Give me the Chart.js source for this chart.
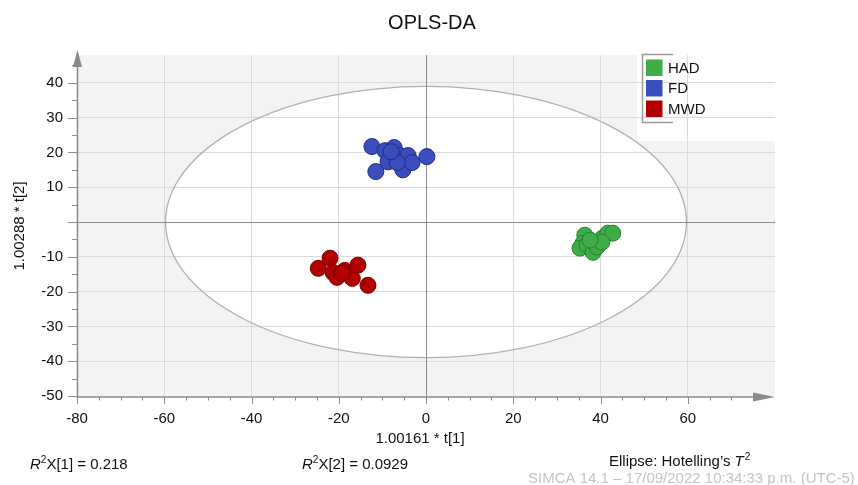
<!DOCTYPE html>
<html>
<head>
<title>OPLS-DA</title>
<script src="https://cdn.jsdelivr.net/npm/chart.js"></script>
<style>
  body { margin: 0; background: #fff; }
  #wrap { width: 858px; height: 485px; position: relative; }
</style>
</head>
<body>
<div id="wrap">
  <canvas id="oplsChart" width="858" height="485"></canvas>
</div>
<script>
// groups and scores
const groupNames = ['HAD', 'FD', 'MWD'];
const groupFill = ['rgb(62,172,72)', 'rgb(58,78,190)', 'rgb(178,0,0)'];
const groupEdge = ['rgb(38,125,48)', 'rgb(32,44,130)', 'rgb(120,0,0)'];

const hadX = [36.4, 36.0, 35.3, 36.9, 38.3, 39.2, 40.5, 41.7, 42.8, 40.3, 37.6];
const hadY = [-3.8, -6.1, -7.5, -6.6, -8.7, -7.2, -4.6, -3.2, -3.2, -5.8, -5.2];

const fdX = [-12.4, -11.5, -9.4, -7.3, -6.0, -4.1, -5.3, -3.2, 0.2, -8.7, -6.6, -8.0];
const fdY = [21.7, 14.5, 20.5, 21.4, 19.1, 19.1, 15.0, 17.1, 18.8, 17.3, 17.1, 20.2];

const mwdX = [-24.7, -22.0, -21.3, -20.4, -18.6, -17.4, -16.9, -15.6, -13.3, -19.2];
const mwdY = [-13.3, -10.4, -14.5, -15.9, -13.9, -15.3, -16.2, -12.4, -18.2, -14.7];

const xTicks = [-80, -60, -40, -20, 0, 20, 40, 60];
const yTicks = [-50, -40, -30, -20, -10, 0, 10, 20, 30, 40];

// Hotelling's T2 ellipse half axes (t[1], t[2])
const ellipseA = 59.7;
const ellipseB = 39.0;

const FONT = '"Liberation Sans", Arial, sans-serif';

function toPoints(xs, ys) {
  return xs.map((x, i) => ({ x: x, y: ys[i] }));
}

const seriesX = [hadX, fdX, mwdX];
const seriesY = [hadY, fdY, mwdY];

const datasets = groupNames.map((name, i) => ({
  label: name,
  data: toPoints(seriesX[i], seriesY[i]),
  backgroundColor: groupFill[i],
  borderColor: groupEdge[i],
  borderWidth: 1,
  pointRadius: 8,
  pointHoverRadius: 8
}));

const simcaPlugin = {
  id: 'simca',
  beforeDraw(chart) {
    const ctx = chart.ctx;
    const a = chart.chartArea;
    const xs = chart.scales.x, ys = chart.scales.y;
    ctx.save();
    ctx.fillStyle = '#f3f3f3';
    ctx.fillRect(a.left, a.top, a.right - a.left, a.bottom - a.top);
    // white notch behind the legend
    ctx.fillStyle = '#ffffff';
    ctx.fillRect(637, a.top - 1, a.right - 637 + 1, 141 - a.top + 1);
    // ellipse fill
    const cx = xs.getPixelForValue(0), cy = ys.getPixelForValue(0);
    const rx = xs.getPixelForValue(ellipseA) - cx;
    const ry = cy - ys.getPixelForValue(ellipseB);
    ctx.beginPath();
    ctx.ellipse(cx, cy, rx, ry, 0, 0, Math.PI * 2);
    ctx.fillStyle = '#ffffff';
    ctx.fill();
    ctx.restore();
  },
  beforeDatasetsDraw(chart) {
    const ctx = chart.ctx;
    const a = chart.chartArea;
    const xs = chart.scales.x, ys = chart.scales.y;
    const cx = xs.getPixelForValue(0), cy = ys.getPixelForValue(0);
    const rx = xs.getPixelForValue(ellipseA) - cx;
    const ry = cy - ys.getPixelForValue(ellipseB);
    ctx.save();
    ctx.beginPath();
    ctx.ellipse(cx, cy, rx, ry, 0, 0, Math.PI * 2);
    ctx.strokeStyle = '#b0b0b0';
    ctx.lineWidth = 1.3;
    ctx.stroke();

    // zero lines
    ctx.strokeStyle = '#8c8c8c';
    ctx.lineWidth = 1;
    ctx.beginPath();
    ctx.moveTo(Math.round(cx) + 0.5, a.top);
    ctx.lineTo(Math.round(cx) + 0.5, a.bottom);
    ctx.moveTo(a.left, Math.round(cy) + 0.5);
    ctx.lineTo(a.right, Math.round(cy) + 0.5);
    ctx.stroke();

    // axes
    ctx.strokeStyle = '#8a8a8a';
    ctx.lineWidth = 1.5;
    ctx.beginPath();
    ctx.moveTo(a.left + 0.5, a.top - 2);
    ctx.lineTo(a.left + 0.5, a.bottom + 1);
    ctx.lineTo(a.right - 4, a.bottom + 1);
    ctx.stroke();

    // arrows
    ctx.fillStyle = '#8a8a8a';
    ctx.beginPath();
    ctx.moveTo(a.left + 0.5, a.top - 5);
    ctx.lineTo(a.left - 4, a.top + 12);
    ctx.lineTo(a.left + 5, a.top + 12);
    ctx.closePath();
    ctx.fill();
    ctx.beginPath();
    ctx.moveTo(a.right, a.bottom + 1);
    ctx.lineTo(a.right - 22, a.bottom - 3.5);
    ctx.lineTo(a.right - 22, a.bottom + 5.5);
    ctx.closePath();
    ctx.fill();

    // tick marks, major every 20 / 10, minor every 5
    ctx.lineWidth = 1;
    ctx.strokeStyle = '#8a8a8a';
    ctx.beginPath();
    for (let v = -80; v <= 75; v += 5) {
      const px = Math.round(xs.getPixelForValue(v)) + 0.5;
      const len = (v % 20 === 0) ? 7 : 3.5;
      ctx.moveTo(px, a.bottom + 1);
      ctx.lineTo(px, a.bottom + 1 + len);
    }
    for (let v = -50; v <= 45; v += 5) {
      const py = Math.round(ys.getPixelForValue(v)) + 0.5;
      const len = (v % 10 === 0) ? 9 : 5;
      ctx.moveTo(a.left, py);
      ctx.lineTo(a.left - len, py);
    }
    ctx.stroke();
    ctx.restore();
  },
  afterDraw(chart) {
    const ctx = chart.ctx;
    ctx.save();
    ctx.fillStyle = '#111';
    ctx.textAlign = 'center';
    ctx.textBaseline = 'middle';
    ctx.font = '20px ' + FONT;
    ctx.fillText('OPLS-DA', 432, 23);

    ctx.font = '15px ' + FONT;
    ctx.fillText('1.00161 * t[1]', 420, 439);

    ctx.save();
    ctx.translate(20, 226);
    ctx.rotate(-Math.PI / 2);
    ctx.fillText('1.00288 * t[2]', 0, 0);
    ctx.restore();

    // legend
    ctx.strokeStyle = '#9a9a9a';
    ctx.lineWidth = 1.5;
    ctx.beginPath();
    ctx.moveTo(673, 54.5);
    ctx.lineTo(642.5, 54.5);
    ctx.lineTo(642.5, 122.5);
    ctx.lineTo(673, 122.5);
    ctx.stroke();
    ctx.textAlign = 'left';
    ctx.font = '15px ' + FONT;
    groupNames.forEach((name, i) => {
      const top = 59.5 + i * 20.5;
      ctx.fillStyle = groupFill[i];
      ctx.fillRect(646, top, 16.5, 16.5);
      ctx.fillStyle = '#111';
      ctx.fillText(name, 668, top + 9);
    });

    // footer texts
    ctx.textBaseline = 'alphabetic';
    function r2(x, y, idx, val) {
      ctx.font = 'italic 15px ' + FONT;
      ctx.fillText('R', x, y);
      let w = ctx.measureText('R').width;
      ctx.font = '10px ' + FONT;
      ctx.fillText('2', x + w, y - 6);
      w += ctx.measureText('2').width;
      ctx.font = '15px ' + FONT;
      ctx.fillText('X[' + idx + '] = ' + val, x + w, y);
    }
    ctx.fillStyle = '#111';
    r2(30, 469, 1, '0.218');
    r2(302, 469, 2, '0.0929');

    ctx.font = '15px ' + FONT;
    const e1 = 'Ellipse: Hotelling\u2019s ';
    ctx.fillText(e1, 609, 466);
    let ew = ctx.measureText(e1).width;
    ctx.font = 'italic 15px ' + FONT;
    ctx.fillText('T', 609 + ew, 466);
    ew += ctx.measureText('T').width;
    ctx.font = '10px ' + FONT;
    ctx.fillText('2', 609 + ew + 1, 460);

    ctx.fillStyle = '#c4c4c4';
    ctx.font = '15px ' + FONT;
    ctx.fillText('SIMCA 14.1 \u2013 17/09/2022 10:34:33 p.m. (UTC-5)', 528, 483);
    ctx.restore();
  }
};

new Chart(document.getElementById('oplsChart'), {
  type: 'scatter',
  data: { datasets: datasets },
  options: {
    responsive: false,
    animation: false,
    events: [],
    layout: { padding: { left: 0, right: 83, top: 55, bottom: 0 } },
    plugins: {
      legend: { display: false },
      title: { display: false },
      tooltip: { enabled: false }
    },
    scales: {
      x: {
        type: 'linear',
        min: -80,
        max: 80,
        afterBuildTicks: scale => { scale.ticks = xTicks.map(v => ({ value: v })); },
        afterFit: scale => { scale.height = 89; },
        grid: {
          drawTicks: false,
          color: ctx => (ctx.tick && ctx.tick.value === -80) ? 'rgba(0,0,0,0)' : '#dadada',
          lineWidth: 1
        },
        border: { display: false },
        ticks: {
          padding: 14,
          color: '#111',
          font: { family: FONT, size: 15 },
          maxRotation: 0,
          autoSkip: false
        }
      },
      y: {
        type: 'linear',
        min: -50,
        max: 48,
        afterBuildTicks: scale => { scale.ticks = yTicks.map(v => ({ value: v })); },
        afterFit: scale => { scale.width = 77; },
        grid: {
          drawTicks: false,
          color: ctx => (ctx.tick && ctx.tick.value === -50) ? 'rgba(0,0,0,0)' : '#dadada',
          lineWidth: 1
        },
        border: { display: false },
        ticks: {
          padding: 14,
          color: '#111',
          font: { family: FONT, size: 15 },
          callback: v => (v === 0 ? '' : v),
          autoSkip: false
        }
      }
    }
  },
  plugins: [simcaPlugin]
});
</script>
</body>
</html>
